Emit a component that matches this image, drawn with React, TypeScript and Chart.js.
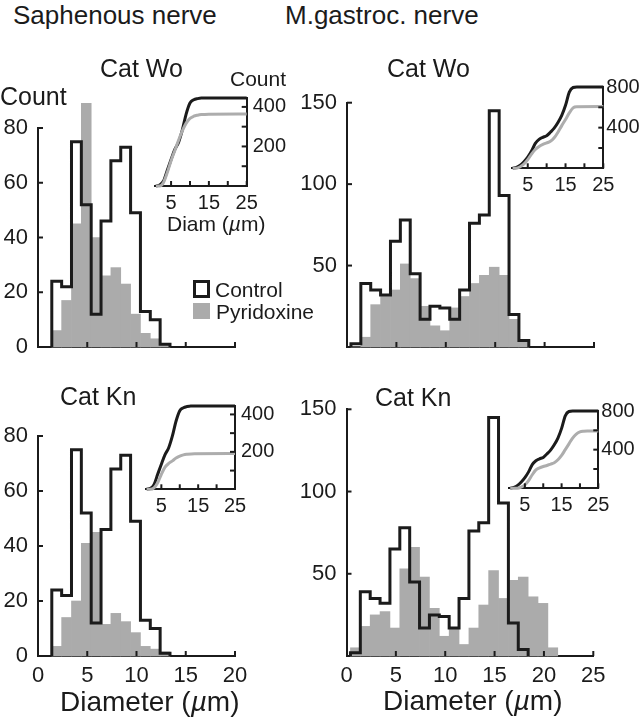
import React, { useEffect, useRef } from 'react';
import { Chart, registerables } from 'chart.js';

Chart.register(...registerables);

const FONT = "'Liberation Sans', Arial, Helvetica, sans-serif";
const INK = '#1b1b1b';
const GREY_FILL = '#ababab';
const GREY_LINE = '#adadad';

Chart.defaults.font.family = FONT;
Chart.defaults.color = INK;

// ---------- Histogram data (bin centres in µm, counts) ----------
const sapBins = [1.9, 2.9, 3.9, 4.9, 5.9, 6.9, 7.9, 8.9, 9.9, 10.9, 11.9, 12.9];
const sapControl = [24, 22, 75, 52, 12, 46, 68, 73, 49, 13, 10, 1];
const sapPyrWo = [6, 17, 45, 89, 40, 26, 29, 23, 12, 5, 3, 1];
const sapPyrKn = [3.5, 14, 20, 41, 45, 11.5, 15.5, 12.5, 8.5, 3.5, 2.5, 1.5];

const gasBins = [0.9, 1.9, 2.9, 3.9, 4.9, 5.9, 6.9, 7.9, 8.9, 9.9, 10.9, 11.9, 12.9, 13.9, 14.9, 15.9, 16.9, 17.9];
const gasControl = [2, 39, 35, 32, 65, 78, 45, 17, 25, 24, 17, 35, 76, 81, 145, 93, 20, 4];
const gasPyrWo = [0, 6, 26, 31, 35, 51, 42, 25, 13, 10, 24, 31, 39, 44, 49, 44, 17, 3];
const gasBinsKn = [0.9, 1.9, 2.9, 3.9, 4.9, 5.9, 6.9, 7.9, 8.9, 9.9, 10.9, 11.9, 12.9, 13.9, 14.9, 15.9, 16.9, 17.9, 18.9, 19.9, 20.9];
const gasPyrKn = [5, 18, 25, 27, 17, 53, 66, 48, 29, 12, 17, 7, 17, 31, 52, 35, 46, 48, 36, 32, 5];

// ---------- Inset cumulative data ----------
const sapCumDiam = [1, 2, 3, 4, 5, 6, 7, 8, 9, 10, 11, 12, 13, 25];
const sapCumControl = [0, 5, 25, 80, 134, 185, 222, 285, 365, 420, 436, 442, 445, 445];
const sapCumPyrWoDiam = [1, 2, 3, 4, 5, 6, 7, 8, 9, 10, 11, 12, 13, 15, 25];
const sapCumPyrWo = [0, 0, 18, 68, 128, 180, 232, 280, 318, 342, 353, 358, 361, 363, 364];
const sapCumPyrKnDiam = [1, 2, 3, 4, 5, 6, 7, 8, 9, 10, 11, 12, 14, 25];
const sapCumPyrKn = [0, 0, 8, 35, 80, 118, 138, 152, 167, 177, 184, 187, 190, 191];

const gasCumDiam = [1, 2, 3, 4, 5, 6, 7, 8, 9, 10, 11, 12, 13, 14, 15, 16, 17, 18, 25];
const gasCumControl = [0, 10, 30, 65, 110, 170, 245, 285, 305, 320, 355, 395, 450, 520, 620, 750, 795, 800, 800];
const gasCumPyrWoDiam = [1, 2, 3, 4, 5, 6, 7, 8, 9, 10, 11, 12, 13, 14, 15, 16, 17, 18, 25];
const gasCumPyrWo = [0, 0, 15, 42, 85, 140, 185, 215, 235, 250, 265, 300, 355, 420, 480, 545, 595, 605, 607];
const gasCumPyrKnDiam = [1, 2, 3, 4, 5, 6, 7, 8, 9, 10, 11, 12, 13, 14, 15, 16, 17, 18, 19, 20, 21, 22, 25];
const gasCumPyrKn = [0, 0, 0, 12, 35, 80, 140, 190, 212, 226, 236, 250, 265, 295, 340, 400, 460, 520, 560, 583, 590, 592, 592];

// ---------- Ticks ----------
const sapCountTicks = [0, 20, 40, 60, 80];
const sapCountLabels = [0, 20, 40, 60, 80];
const gasCountTicks = [0, 50, 100, 150];
const gasCountLabels = [50, 100, 150];
const sapDiamTicks = [0, 5, 10, 15, 20];
const gasDiamTicks = [0, 5, 10, 15, 20, 25];
const insetDiamTicks = [5, 10, 15, 20, 25];
const insetDiamLabels = [5, 15, 25];
const sapInsetTicks = [100, 200, 300, 400];
const sapInsetLabels = [200, 400];
const gasInsetTicks = [200, 400, 600, 800];
const gasInsetLabels = [400, 800];

type Box = { x: number; y: number; w: number; h: number };
type Area = { l: number; t: number; r: number; b: number };

const tickMarks = {
  id: 'tickMarks',
  afterDraw(chart: any, _a: any, opts: any) {
    const ctx = chart.ctx;
    const len = opts.length || 5;
    ctx.save();
    ctx.strokeStyle = INK;
    ctx.lineWidth = opts.width || 2;
    ctx.lineCap = 'butt';
    Object.values(chart.scales).forEach((s: any) => {
      s.ticks.forEach((t: any) => {
        if (t.value <= s.min) return;
        const p = s.getPixelForValue(t.value);
        ctx.beginPath();
        if (s.isHorizontal()) {
          ctx.moveTo(p, s.top);
          ctx.lineTo(p, s.top - len);
        } else if (s.position === 'left') {
          ctx.moveTo(s.right, p);
          ctx.lineTo(s.right + len, p);
        } else {
          ctx.moveTo(s.left, p);
          ctx.lineTo(s.left - len, p);
        }
        ctx.stroke();
      });
    });
    ctx.restore();
  },
};

function outline(centres: number[], counts: number[]) {
  const half = 0.5;
  const pts: { x: number; y: number }[] = [{ x: centres[0] - half, y: 0 }];
  centres.forEach((c, i) => {
    pts.push({ x: c - half, y: counts[i] }, { x: c + half, y: counts[i] });
  });
  pts.push({ x: centres[centres.length - 1] + half, y: 0 });
  return pts;
}

const noGrid = { display: false, drawTicks: false };

function histogramConfig(o: {
  box: Box; area: Area;
  centres: number[]; control: number[];
  pyrCentres: number[]; pyr: number[];
  xMax: number; xTicks: number[]; xLabels: number[];
  yMax: number; yTicks: number[]; yLabels: number[];
}): any {
  return {
    type: 'bar',
    data: {
      datasets: [
        {
          type: 'line', label: 'Control', data: outline(o.centres, o.control),
          borderColor: INK, borderWidth: 3, pointRadius: 0, tension: 0, fill: false,
          clip: false, order: 1, borderJoinStyle: 'miter',
        },
        {
          type: 'bar', label: 'Pyridoxine', data: o.pyrCentres.map((x, i) => ({ x, y: o.pyr[i] })),
          backgroundColor: GREY_FILL, borderWidth: 0, barPercentage: 1, categoryPercentage: 1,
          clip: false, order: 2,
        },
      ],
    },
    options: {
      responsive: false, animation: false, devicePixelRatio: 1,
      layout: { padding: { left: 0, top: o.area.t - o.box.y, right: o.box.x + o.box.w - o.area.r, bottom: 0 } },
      plugins: { legend: { display: false }, tooltip: { enabled: false }, title: { display: false }, tickMarks: { length: 5, width: 2 } },
      scales: {
        x: {
          type: 'linear', min: 0, max: o.xMax, offset: false,
          grid: noGrid, border: { display: true, color: INK, width: 2 },
          afterBuildTicks: (s: any) => { s.ticks = o.xTicks.map((v) => ({ value: v })); },
          afterFit: (s: any) => { s.height = o.box.y + o.box.h - o.area.b; },
          ticks: {
            autoSkip: false, maxRotation: 0, minRotation: 0, padding: 7, color: INK,
            font: { size: 22, family: FONT },
            callback: (v: number) => (o.xLabels.includes(v) ? String(v) : ''),
          },
        },
        y: {
          type: 'linear', position: 'left', min: 0, max: o.yMax,
          grid: noGrid, border: { display: true, color: INK, width: 2 },
          afterBuildTicks: (s: any) => { s.ticks = o.yTicks.map((v) => ({ value: v })); },
          afterFit: (s: any) => { s.width = o.area.l - o.box.x; },
          ticks: {
            autoSkip: false, padding: 10, color: INK, font: { size: 22, family: FONT },
            callback: (v: number) => (o.yLabels.includes(v) ? String(v) : ''),
          },
        },
      },
    },
    plugins: [tickMarks],
  };
}

function insetConfig(o: {
  box: Box; area: Area;
  series: { x: number[]; y: number[]; color: string }[];
  yMax: number; yTicks: number[]; yLabels: number[]; labelPad: number;
}): any {
  return {
    type: 'line',
    data: {
      datasets: o.series.map((s, k) => ({
        data: s.x.map((x, i) => ({ x, y: s.y[i] })),
        borderColor: s.color, borderWidth: 3, pointRadius: 0,
        cubicInterpolationMode: 'monotone', fill: false, clip: false, order: k,
      })),
    },
    options: {
      responsive: false, animation: false, devicePixelRatio: 1,
      layout: { padding: { left: o.area.l - o.box.x, top: o.area.t - o.box.y, right: 0, bottom: 0 } },
      plugins: { legend: { display: false }, tooltip: { enabled: false }, title: { display: false }, tickMarks: { length: 5, width: 2 } },
      scales: {
        x: {
          type: 'linear', min: 0.75, max: 25, offset: false,
          grid: noGrid, border: { display: true, color: INK, width: 2 },
          afterBuildTicks: (s: any) => { s.ticks = insetDiamTicks.map((v) => ({ value: v })); },
          afterFit: (s: any) => { s.height = o.box.y + o.box.h - o.area.b; },
          ticks: {
            autoSkip: false, maxRotation: 0, minRotation: 0, padding: 5, color: INK,
            font: { size: 20, family: FONT },
            callback: (v: number) => (insetDiamLabels.includes(v) ? String(v) : ''),
          },
        },
        y: {
          type: 'linear', position: 'right', min: 0, max: o.yMax,
          grid: noGrid, border: { display: true, color: INK, width: 2 },
          afterBuildTicks: (s: any) => { s.ticks = o.yTicks.map((v) => ({ value: v })); },
          afterFit: (s: any) => { s.width = o.box.x + o.box.w - o.area.r; },
          ticks: {
            autoSkip: false, padding: o.labelPad, color: INK, font: { size: 20, family: FONT },
            callback: (v: number) => (o.yLabels.includes(v) ? String(v) : ''),
          },
        },
      },
    },
    plugins: [tickMarks],
  };
}

function ChartCanvas({ box, make }: { box: Box; make: () => any }) {
  const ref = useRef<HTMLCanvasElement>(null);
  useEffect(() => {
    const chart = new Chart(ref.current as HTMLCanvasElement, make());
    return () => chart.destroy();
  }, []);
  return (
    <canvas
      ref={ref}
      width={box.w}
      height={box.h}
      style={{ position: 'absolute', left: box.x, top: box.y, width: box.w, height: box.h }}
    />
  );
}

function Label({ x, cy, size, children }: { x: number; cy: number; size: number; children: any }) {
  return (
    <div
      style={{
        position: 'absolute', left: x, top: cy - size * 0.49, fontSize: size,
        lineHeight: `${size}px`, whiteSpace: 'nowrap',
      }}
    >
      {children}
    </div>
  );
}

const mu = <span style={{ fontStyle: 'italic' }}>µ</span>;

const panels = [
  {
    box: { x: 0, y: 95, w: 262, h: 290 }, area: { l: 38, t: 128, r: 235, b: 347 },
    centres: sapBins, control: sapControl, pyrCentres: sapBins, pyr: sapPyrWo,
    xMax: 20, xTicks: sapDiamTicks, xLabels: [] as number[],
    yMax: 80, yTicks: sapCountTicks, yLabels: sapCountLabels,
  },
  {
    box: { x: 280, y: 70, w: 362, h: 315 }, area: { l: 347, t: 102.7, r: 594, b: 347 },
    centres: gasBins, control: gasControl, pyrCentres: gasBins, pyr: gasPyrWo,
    xMax: 25, xTicks: gasDiamTicks, xLabels: [] as number[],
    yMax: 150, yTicks: gasCountTicks, yLabels: gasCountLabels,
  },
  {
    box: { x: 0, y: 405, w: 262, h: 314 }, area: { l: 38, t: 436, r: 235, b: 656 },
    centres: sapBins, control: sapControl, pyrCentres: sapBins, pyr: sapPyrKn,
    xMax: 20, xTicks: sapDiamTicks, xLabels: sapDiamTicks,
    yMax: 80, yTicks: sapCountTicks, yLabels: sapCountLabels,
  },
  {
    box: { x: 280, y: 380, w: 362, h: 339 }, area: { l: 346.5, t: 409.3, r: 593.3, b: 656 },
    centres: gasBins, control: gasControl, pyrCentres: gasBinsKn, pyr: gasPyrKn,
    xMax: 25, xTicks: gasDiamTicks, xLabels: gasDiamTicks,
    yMax: 150, yTicks: gasCountTicks, yLabels: gasCountLabels,
  },
];

const insets = [
  {
    box: { x: 145, y: 80, w: 152, h: 136 }, area: { l: 155, t: 95, r: 246.7, b: 186 },
    series: [
      { x: sapCumPyrWoDiam, y: sapCumPyrWo, color: GREY_LINE },
      { x: sapCumDiam, y: sapCumControl, color: INK },
    ],
    yMax: 445, yTicks: sapInsetTicks, yLabels: sapInsetLabels, labelPad: 6,
  },
  {
    box: { x: 500, y: 72, w: 142, h: 127 }, area: { l: 511.7, t: 86.7, r: 603.3, b: 168.3 },
    series: [
      { x: gasCumPyrWoDiam, y: gasCumPyrWo, color: GREY_LINE },
      { x: gasCumDiam, y: gasCumControl, color: INK },
    ],
    yMax: 800, yTicks: gasInsetTicks, yLabels: gasInsetLabels, labelPad: 3,
  },
  {
    box: { x: 135, y: 388, w: 150, h: 132 }, area: { l: 145.7, t: 401.7, r: 235, b: 489.3 },
    series: [
      { x: sapCumPyrKnDiam, y: sapCumPyrKn, color: GREY_LINE },
      { x: sapCumDiam, y: sapCumControl, color: INK },
    ],
    yMax: 445, yTicks: sapInsetTicks, yLabels: sapInsetLabels, labelPad: 6,
  },
  {
    box: { x: 498, y: 396, w: 144, h: 123 }, area: { l: 509.3, t: 410, r: 598.3, b: 488.3 },
    series: [
      { x: gasCumPyrKnDiam, y: gasCumPyrKn, color: GREY_LINE },
      { x: gasCumDiam, y: gasCumControl, color: INK },
    ],
    yMax: 800, yTicks: gasInsetTicks, yLabels: gasInsetLabels, labelPad: 3,
  },
];

export default function App() {
  return (
    <div
      style={{
        position: 'absolute', left: 0, top: 0, width: 642, height: 719, overflow: 'hidden',
        background: '#ffffff', fontFamily: FONT, color: INK,
      }}
    >
      {panels.map((p, i) => (
        <ChartCanvas key={'p' + i} box={p.box} make={() => histogramConfig(p)} />
      ))}
      {insets.map((p, i) => (
        <ChartCanvas key={'i' + i} box={p.box} make={() => insetConfig(p)} />
      ))}

      <Label x={13} cy={15} size={26}>Saphenous nerve</Label>
      <Label x={285} cy={15} size={26}>M.gastroc. nerve</Label>

      <Label x={100} cy={68} size={25}>Cat Wo</Label>
      <Label x={387} cy={68} size={25}>Cat Wo</Label>
      <Label x={60} cy={396} size={25}>Cat Kn</Label>
      <Label x={375} cy={397} size={25}>Cat Kn</Label>

      <Label x={0} cy={96.5} size={25}>Count</Label>
      <Label x={230} cy={78} size={21}>Count</Label>
      <Label x={167} cy={223} size={21}>Diam ({mu}m)</Label>

      <Label x={60} cy={701.7} size={28}>Diameter ({mu}m)</Label>
      <Label x={383} cy={701} size={28}>Diameter ({mu}m)</Label>

      <div style={{ position: 'absolute', left: 193, top: 280, width: 17, height: 18, boxSizing: 'border-box', border: `3px solid ${INK}`, background: '#fff' }} />
      <div style={{ position: 'absolute', left: 193, top: 303, width: 17, height: 16, background: GREY_FILL }} />
      <Label x={215} cy={289} size={21}>Control</Label>
      <Label x={216} cy={311} size={21}>Pyridoxine</Label>
    </div>
  );
}
